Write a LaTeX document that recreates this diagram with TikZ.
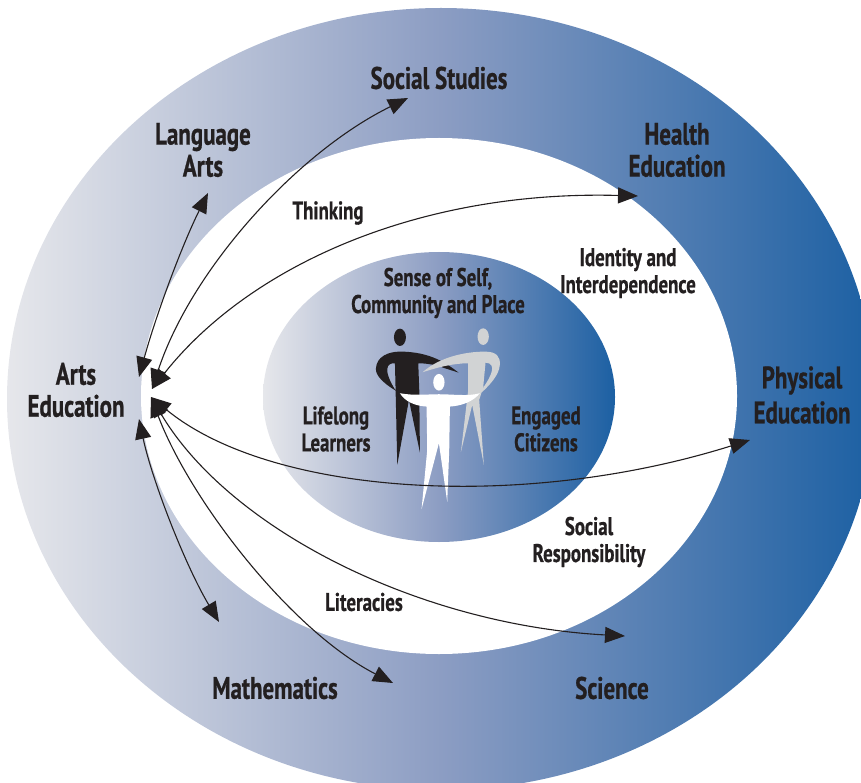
\documentclass[tikz,border=0pt]{standalone}
\usepackage{fontspec}
\setmainfont[FakeStretch=0.74,BoldFeatures={FakeBold=0.7}]{PT Sans}
\usetikzlibrary{arrows.meta}
\definecolor{inkdark}{HTML}{231F20}
\definecolor{figgrey}{HTML}{D1D3D4}
\definecolor{fadeleft}{HTML}{E6E7EB}
\definecolor{fademid}{HTML}{8C9DC3}
\definecolor{faderight}{HTML}{1C60A3}
\pgfdeclarehorizontalshading{bandfade}{100bp}{color(0bp)=(fadeleft); color(25bp)=(fadeleft); color(50bp)=(fademid); color(75bp)=(faderight); color(100bp)=(faderight)}
\tikzset{
  biglabel/.style={font=\fontsize{31}{32}\selectfont\bfseries, text=inkdark, align=center, inner sep=0pt},
  smalllabel/.style={font=\fontsize{25.5}{27}\selectfont\bfseries, text=inkdark, align=center, inner sep=0pt},
  link/.style={<->, line width=1.1pt, draw=inkdark},
}

\begin{document}
\begin{tikzpicture}[x=1pt,y=-1pt,>={Triangle[length=20pt,width=16pt]}]
        \useasboundingbox (0,0) rectangle (861,783);
        \clip (0,0) rectangle (861,783);
        % the three ovals
        \shade[shading=bandfade] (441,399) ellipse [x radius=434, y radius=391];
        \fill[white] (439,396) ellipse [x radius=298, y radius=258];
        \shade[shading=bandfade] (439,397) ellipse [x radius=176, y radius=145];

        % the figures
        \begin{scope}[shift={(340,300)},x=0.333pt,y=-0.333pt]
        \fill[inkdark] (180,112) ellipse [x radius=18, y radius=26];
        \fill[inkdark] (180,155) .. controls (270,155) and (320,190) .. (356,218)
            -- (312,204) .. controls (290,195) and (260,190) .. (235,190)
            -- (238,270) -- (240,458) -- (207,300) -- (172,495) -- (167,272)
            -- (165,190) .. controls (140,188) and (128,210) .. (167,272)
            .. controls (130,250) and (105,225) .. (108,205)
            .. controls (110,170) and (145,155) .. (180,155) -- cycle;
        \fill[figgrey] (430,110) ellipse [x radius=17, y radius=25];
        \fill[figgrey] (248,217) .. controls (300,170) and (380,155) .. (435,155)
            .. controls (470,155) and (482,170) .. (480,195)
            .. controls (478,225) and (450,255) .. (425,278)
            -- (432,260) .. controls (450,235) and (475,190) .. (437,188)
            -- (430,262) -- (418,300) -- (432,495) -- (397,315) -- (363,457) -- (385,270)
            -- (385,190) .. controls (340,190) and (290,203) .. (248,217) -- cycle;
        \fill[white] (297,247) ellipse [x radius=17, y radius=25];
        \fill[white] (180,280) .. controls (225,288) and (262,283) .. (297,283)
            .. controls (340,283) and (385,290) .. (420,280)
            .. controls (400,305) and (365,318) .. (330,320)
            -- (328,450) -- (322,606) -- (297,430) -- (245,628) -- (262,450) -- (260,320)
            .. controls (225,318) and (195,305) .. (180,280) -- cycle;
        \end{scope}

        % free ends of the arrows
        \coordinate (hubA) at (139,377);
        \coordinate (hubB) at (152,389);
        \coordinate (hubC) at (151,397);
        \coordinate (hubD) at (139,419);
        \coordinate (toLang) at (208,193);
        \coordinate (toSocial) at (408,98);
        \coordinate (toHealth) at (638,196);
        \coordinate (toPhys) at (750,440);
        \coordinate (toSci) at (625,636);
        \coordinate (toLit) at (393,683);
        \coordinate (toMath) at (219,622);

        \draw[link] (hubA) .. controls (156,315) and (182,245) .. (toLang);
        \draw[link] (hubB) .. controls (192,268) and (298,152) .. (toSocial);
        \draw[link] (hubB) .. controls (250,265) and (420,190) .. (toHealth);
        \draw[link] (hubC) .. controls (270,495) and (520,512) .. (toPhys);
        \draw[link] (hubC) .. controls (230,530) and (420,625) .. (toSci);
        \draw[link] (hubC) .. controls (190,500) and (290,630) .. (toLit);
        \draw[link] (hubD) .. controls (152,480) and (185,565) .. (toMath);

        % labels
        \node[biglabel] (social) at (439,78) {Social Studies};
        \node[biglabel] (lang) at (203,150) {Language\\Arts};
        \node[biglabel] (health) at (677,150) {Health\\Education};
        \node[biglabel] (arts) at (76,390) {Arts\\Education};
        \node[biglabel] (phys) at (802,395) {Physical\\[3pt]Education};
        \node[biglabel] (math) at (275,688) {Mathematics};
        \node[biglabel] (sci) at (612,688) {Science};
        \node[smalllabel] (think) at (328,213) {Thinking};
        \node[smalllabel] (ident) at (628,273) {Identity and\\Interdependence};
        \node[smalllabel] (self) at (438,293) {Sense of Self,\\Community and Place};
        \node[smalllabel] (life) at (336,429) {Lifelong\\Learners};
        \node[smalllabel] (engaged) at (546,429) {Engaged\\Citizens};
        \node[smalllabel] (resp) at (589,542) {Social\\Responsibility};
        \node[smalllabel] (lit) at (364,602) {Literacies};
    \end{tikzpicture}
\end{document}
